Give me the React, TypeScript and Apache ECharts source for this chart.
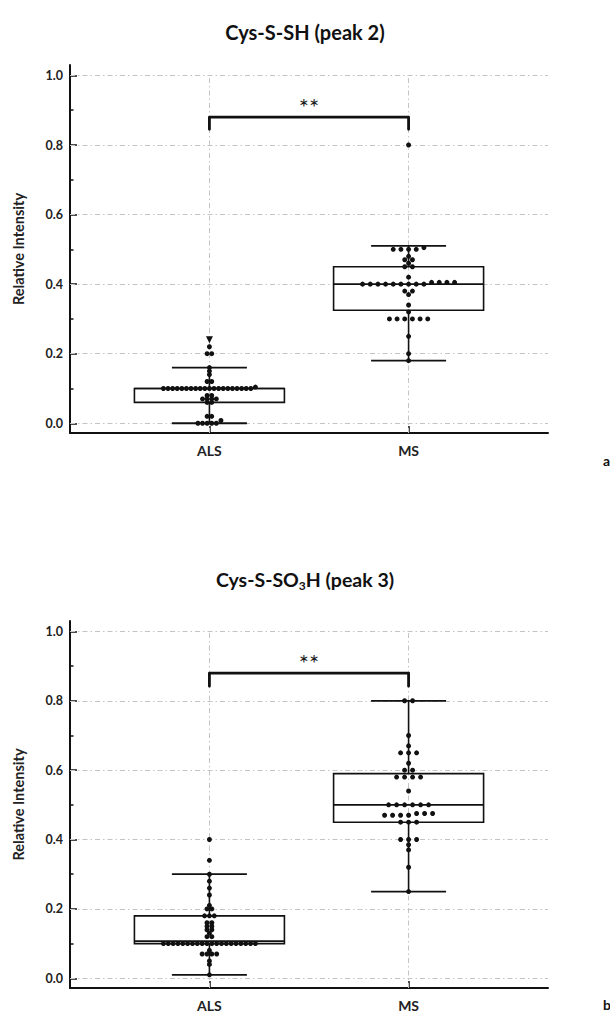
import React, { useEffect, useRef } from "react";
import * as echarts from "echarts";

// ---------------- data ----------------
const categories = ["ALS", "MS"];
const yTicks = [0, 0.2, 0.4, 0.6, 0.8, 1.0];
const yMinorTicks = [0.1, 0.3, 0.5, 0.7, 0.9];
const xTicks = [1, 2];
const gridValues = [0, 0.2, 0.4, 0.6, 0.8, 1.0];

// panel a : Cys-S-SH (peak 2)
const titleA = "Cys-S-SH (peak 2)";
// [x, low whisker, Q1, median, Q3, high whisker]
const boxA_ALS = [1, 0.0, 0.06, 0.1, 0.1, 0.16];
const boxA_MS = [2, 0.18, 0.325, 0.4, 0.45, 0.51];
const pointsA_ALS = [
  0.22, 0.2, 0.2, 0.16, 0.15, 0.14, 0.12, 0.12, 0.104,
  0.1, 0.1, 0.1, 0.1, 0.1, 0.1, 0.1, 0.1, 0.1, 0.1,
  0.1, 0.1, 0.1, 0.1, 0.1, 0.1, 0.1, 0.1, 0.1, 0.1,
  0.08, 0.08, 0.07, 0.07, 0.07, 0.07, 0.06, 0.06,
  0.02, 0.02, 0.008, 0.0, 0.0, 0.0, 0.0, 0.0,
];
const outlierA_ALS = [0.24];
const pointsA_MS = [
  0.8, 0.505, 0.5, 0.5, 0.5, 0.5, 0.48, 0.47, 0.47, 0.46, 0.45, 0.45, 0.42,
  0.405, 0.405, 0.405, 0.405,
  0.4, 0.4, 0.4, 0.4, 0.4, 0.4, 0.4, 0.4, 0.4,
  0.38, 0.38, 0.37, 0.34, 0.32,
  0.3, 0.3, 0.3, 0.3, 0.3, 0.3, 0.25, 0.2, 0.18,
];

// panel b : Cys-S-SO3H (peak 3)
const boxB_ALS = [1, 0.01, 0.1, 0.107, 0.18, 0.3];
const boxB_MS = [2, 0.25, 0.45, 0.5, 0.59, 0.8];
const pointsB_ALS = [
  0.4, 0.34, 0.3, 0.28, 0.26, 0.24, 0.21, 0.2, 0.2,
  0.18, 0.18, 0.18, 0.16, 0.16, 0.15, 0.15, 0.14, 0.14, 0.13, 0.12, 0.12,
  0.1, 0.1, 0.1, 0.1, 0.1, 0.1, 0.1, 0.1, 0.1, 0.1,
  0.1, 0.1, 0.1, 0.1, 0.1, 0.1, 0.1, 0.1, 0.1, 0.1,
  0.08, 0.07, 0.07, 0.07, 0.07, 0.05, 0.04, 0.01,
];
const pointsB_MS = [
  0.8, 0.8, 0.7, 0.67, 0.65, 0.65, 0.65, 0.62, 0.6, 0.6,
  0.58, 0.58, 0.58, 0.58, 0.54,
  0.5, 0.5, 0.5, 0.5, 0.5, 0.5,
  0.47, 0.47, 0.47, 0.47, 0.475, 0.475, 0.475,
  0.45, 0.45, 0.45, 0.4, 0.4, 0.4, 0.385, 0.37, 0.32, 0.25,
];

// significance brackets: [from x, to x, top, leg bottom]
const bracketA = [1, 2, 0.88, 0.845];
const bracketB = [1, 2, 0.88, 0.842];
const bracketLabel = "**";

// ---------------- layout / style constants ----------------
const FONT = "Lato, 'Open Sans', sans-serif";
const X_MIN = 0.3;
const X_MAX = 2.7;
const Y_MIN = -0.028;
const Y_MAX = 1.03;
const GRID_LEFT = 70;
const GRID_WIDTH = 478;
const X_PX_PER_UNIT = GRID_WIDTH / (X_MAX - X_MIN);
const MAX_DOT_SPACING_PX = 8;
const MAX_ROW_WIDTH_PX = 92;
const BOX_HALF = 75 / X_PX_PER_UNIT;
const CAP_HALF = 37.5 / X_PX_PER_UNIT;
const INK = "#111";
const GRID_COLOR = "#c4c4c4";
const DASH_DOT = [5, 3, 1.5, 3];

function swarm(center: number, values: number[]): number[][] {
  const rows = new Map<number, number[]>();
  for (const v of values) {
    const k = Math.floor(v * 100 + 1e-6);
    if (!rows.has(k)) rows.set(k, []);
    rows.get(k)!.push(v);
  }
  let maxRow = 1;
  rows.forEach((r) => {
    maxRow = Math.max(maxRow, r.length);
  });
  const spacingPx =
    maxRow > 1 ? Math.min(MAX_DOT_SPACING_PX, MAX_ROW_WIDTH_PX / (maxRow - 1)) : MAX_DOT_SPACING_PX;
  const step = spacingPx / X_PX_PER_UNIT;
  const out: number[][] = [];
  rows.forEach((r) => {
    r.sort((a, b) => a - b);
    const n = r.length;
    r.forEach((v, i) => out.push([center + (i - (n - 1) / 2) * step, v]));
  });
  return out;
}

function boxRender(params: any, api: any) {
  const x = api.value(0);
  const lo = api.coord([x, api.value(1)]);
  const q1 = api.coord([x, api.value(2)]);
  const md = api.coord([x, api.value(3)]);
  const q3 = api.coord([x, api.value(4)]);
  const hi = api.coord([x, api.value(5)]);
  const hb = api.size([BOX_HALF, 0])[0];
  const hc = api.size([CAP_HALF, 0])[0];
  const st = { stroke: INK, lineWidth: 1.6, fill: "none" };
  return {
    type: "group",
    children: [
      { type: "line", shape: { x1: hi[0], y1: hi[1], x2: q3[0], y2: q3[1] }, style: st },
      { type: "line", shape: { x1: lo[0], y1: lo[1], x2: q1[0], y2: q1[1] }, style: st },
      { type: "line", shape: { x1: hi[0] - hc, y1: hi[1], x2: hi[0] + hc, y2: hi[1] }, style: { ...st, lineWidth: 1.8 } },
      { type: "line", shape: { x1: lo[0] - hc, y1: lo[1], x2: lo[0] + hc, y2: lo[1] }, style: { ...st, lineWidth: 1.8 } },
      {
        type: "rect",
        shape: { x: q3[0] - hb, y: q3[1], width: 2 * hb, height: q1[1] - q3[1] },
        style: st,
      },
      { type: "line", shape: { x1: md[0] - hb, y1: md[1], x2: md[0] + hb, y2: md[1] }, style: st },
    ],
  };
}

function bracketRender(params: any, api: any) {
  const a = api.coord([api.value(0), api.value(3)]);
  const b = api.coord([api.value(0), api.value(2)]);
  const c = api.coord([api.value(1), api.value(2)]);
  const d = api.coord([api.value(1), api.value(3)]);
  return {
    type: "group",
    children: [
      {
        type: "polyline",
        shape: { points: [a, b, c, d] },
        style: { stroke: INK, lineWidth: 2.8, fill: "none", lineJoin: "round", lineCap: "round" },
      },
      {
        type: "text",
        x: (b[0] + c[0]) / 2,
        y: b[1] + 1,
        style: {
          text: bracketLabel,
          fontSize: 24,
          fontFamily: FONT,
          fill: "#1a1a1a",
          align: "center",
          verticalAlign: "bottom",
        },
      },
    ],
  };
}

function panelAxes(g: number, top: number, height: number) {
  const grid = { left: GRID_LEFT, width: GRID_WIDTH, top, height };
  const xAxis = {
    type: "value",
    gridIndex: g,
    min: X_MIN,
    max: X_MAX,
    axisLine: { show: true, onZero: false, lineStyle: { color: INK, width: 2 } },
    axisTick: { show: true, inside: true, length: 7, customValues: xTicks, lineStyle: { color: INK, width: 1.5 } },
    axisLabel: {
      show: true,
      customValues: xTicks,
      formatter: (v: number) => categories[Math.round(v) - 1] ?? "",
      fontFamily: FONT,
      fontWeight: "bold",
      fontSize: 14,
      color: "#222",
      margin: 10,
    },
    splitLine: { show: false },
  };
  const yMain = {
    type: "value",
    gridIndex: g,
    min: Y_MIN,
    max: Y_MAX,
    position: "left",
    axisLine: { show: true, onZero: false, lineStyle: { color: INK, width: 2 } },
    axisTick: { show: true, inside: true, length: 7, customValues: yTicks, lineStyle: { color: INK, width: 1.5 } },
    axisLabel: {
      show: true,
      customValues: yTicks,
      formatter: (v: number) => v.toFixed(1),
      fontFamily: FONT,
      fontWeight: "bold",
      fontSize: 12.5,
      color: "#222",
      margin: 7,
    },
    splitLine: { show: false },
    name: "Relative Intensity",
    nameLocation: "middle",
    nameGap: 44,
    nameTextStyle: { fontFamily: FONT, fontWeight: "bold", fontSize: 14.5, color: "#222" },
  };
  const yMinor = {
    type: "value",
    gridIndex: g,
    min: Y_MIN,
    max: Y_MAX,
    position: "left",
    offset: 0,
    axisLine: { show: false },
    axisTick: { show: true, inside: true, length: 3.5, customValues: yMinorTicks, lineStyle: { color: INK, width: 1.5 } },
    axisLabel: { show: false },
    splitLine: { show: false },
  };
  return { grid, xAxis, yMain, yMinor };
}

function panelSeries(
  g: number,
  boxes: number[][],
  ptsALS: number[],
  ptsMS: number[],
  outliers: number[],
  bracket: number[]
) {
  const xi = g;
  const yi = g * 2;
  const markLine = {
    silent: true,
    z: 1,
    symbol: ["none", "none"],
    label: { show: false },
    lineStyle: { color: GRID_COLOR, width: 1, type: DASH_DOT, opacity: 1 },
    emphasis: { disabled: true },
    data: [
      ...gridValues.map((v) => ({ yAxis: v })),
      ...xTicks.map((x) => [{ coord: [x, Y_MIN] }, { coord: [x, 1.0] }]),
    ],
  };
  const dotStyle = { color: INK, opacity: 1 };
  const list: any[] = [
    {
      type: "custom",
      xAxisIndex: xi,
      yAxisIndex: yi,
      renderItem: () => null,
      data: [],
      z: 1,
      silent: true,
      markLine,
    },
    {
      type: "custom",
      xAxisIndex: xi,
      yAxisIndex: yi,
      renderItem: boxRender,
      data: boxes,
      z: 6,
      silent: true,
    },
    {
      type: "scatter",
      xAxisIndex: xi,
      yAxisIndex: yi,
      data: swarm(1, ptsALS),
      symbol: "circle",
      symbolSize: 5,
      itemStyle: dotStyle,
      z: 8,
      silent: true,
    },
    {
      type: "scatter",
      xAxisIndex: xi,
      yAxisIndex: yi,
      data: swarm(2, ptsMS),
      symbol: "circle",
      symbolSize: 5,
      itemStyle: dotStyle,
      z: 8,
      silent: true,
    },
    {
      type: "custom",
      xAxisIndex: xi,
      yAxisIndex: yi,
      renderItem: bracketRender,
      data: [bracket],
      z: 9,
      silent: true,
    },
  ];
  if (outliers.length) {
    list.push({
      type: "scatter",
      xAxisIndex: xi,
      yAxisIndex: yi,
      data: outliers.map((v) => [1, v]),
      symbol: "triangle",
      symbolRotate: 180,
      symbolSize: 7,
      itemStyle: dotStyle,
      z: 8,
      silent: true,
    });
  }
  return list;
}

export default function App() {
  const ref = useRef<HTMLDivElement>(null);
  useEffect(() => {
    if (!ref.current) return;
    const chart = echarts.init(ref.current, null, { renderer: "svg" });
    const pA = panelAxes(0, 65, 368);
    const pB = panelAxes(1, 621, 367);
    const option: any = {
      animation: false,
      backgroundColor: "#fff",
      title: [
        {
          text: titleA,
          left: "center",
          top: 17,
          textStyle: { fontFamily: FONT, fontWeight: "bold", fontSize: 20, color: "#111" },
        },
        {
          text: "{a|Cys-S-SO}{s|3}{a|H (peak 3)}",
          left: "center",
          top: 562,
          textStyle: {
            rich: {
              a: { fontFamily: FONT, fontWeight: "bold", fontSize: 19.5, color: "#111", lineHeight: 24 },
              s: {
                fontFamily: FONT,
                fontWeight: "bold",
                fontSize: 12,
                color: "#111",
                lineHeight: 12,
                verticalAlign: "bottom",
              },
            },
          },
        },
      ],
      grid: [pA.grid, pB.grid],
      xAxis: [pA.xAxis, pB.xAxis],
      yAxis: [pA.yMain, pA.yMinor, pB.yMain, pB.yMinor],
      series: [
        ...panelSeries(0, [boxA_ALS, boxA_MS], pointsA_ALS, pointsA_MS, outlierA_ALS, bracketA),
        ...panelSeries(1, [boxB_ALS, boxB_MS], pointsB_ALS, pointsB_MS, [], bracketB),
      ],
      graphic: [
        {
          type: "text",
          left: 603,
          top: 453,
          style: { text: "a", fontFamily: FONT, fontWeight: "bold", fontSize: 14, fill: "#111" },
        },
        {
          type: "text",
          left: 603,
          top: 997,
          style: { text: "b", fontFamily: FONT, fontWeight: "bold", fontSize: 14, fill: "#111" },
        },
      ],
    };
    chart.setOption(option);
    return () => chart.dispose();
  }, []);
  return (
    <div
      ref={ref}
      style={{ position: "absolute", left: 0, top: 0, width: 610, height: 1017, background: "#fff" }}
    />
  );
}
